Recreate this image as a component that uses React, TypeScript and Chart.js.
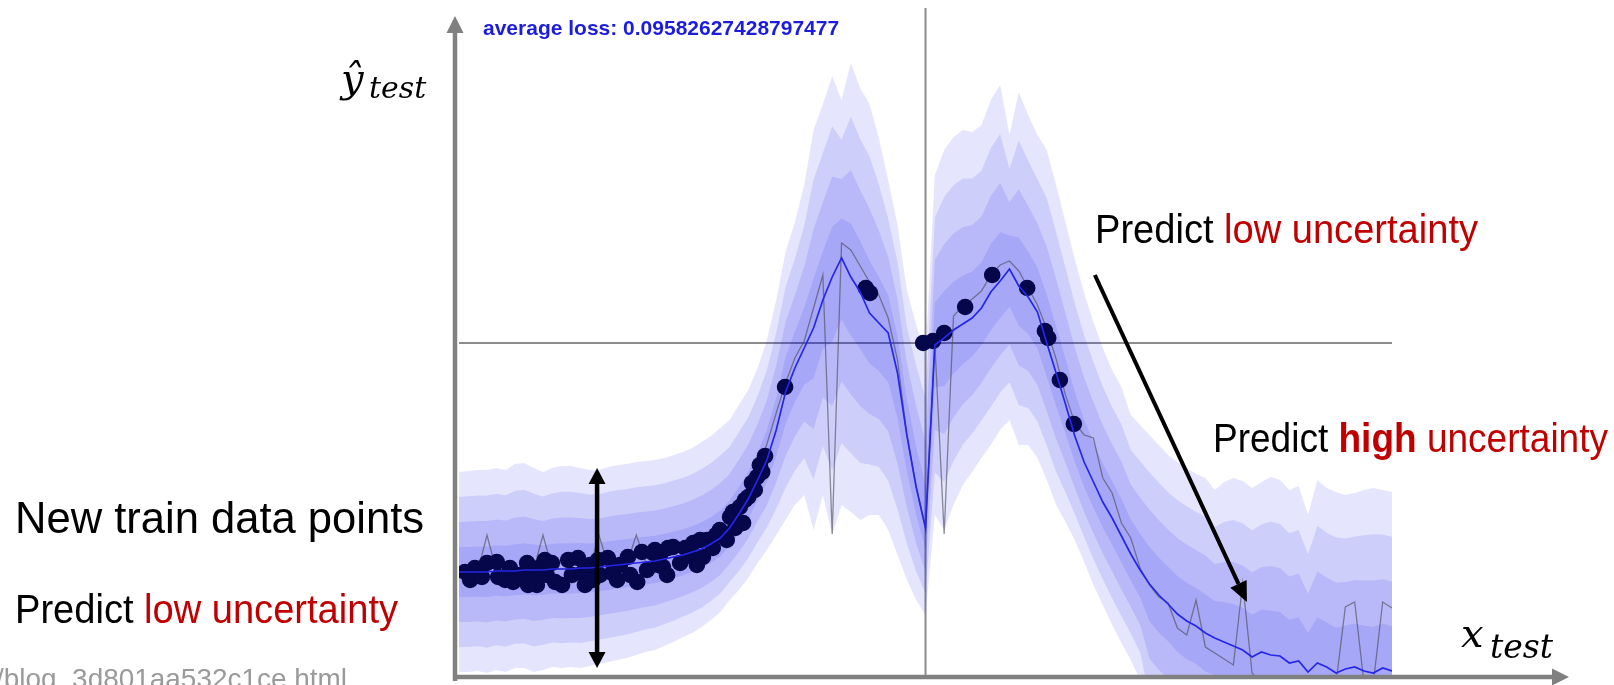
import React, { useEffect, useRef } from "react";
import { Chart, registerables } from "chart.js";

Chart.register(...registerables);

// ---------------- data ----------------
// x sampling grid of the test inputs (domain -1 .. 1)
const xGrid: number[] = Array.from({ length: 101 }, (_, i) => Math.round((-1 + i * 0.02) * 100) / 100);

// predictive mean (blue line)
const meanPrediction = [
  -2.29, -2.29, -2.29, -2.29, -2.28, -2.28, -2.28, -2.27, -2.27, -2.27,
  -2.26, -2.26, -2.26, -2.25, -2.25, -2.24, -2.23, -2.22, -2.21, -2.2,
  -2.19, -2.18, -2.16, -2.14, -2.12, -2.09, -2.06, -2.01, -1.95, -1.85,
  -1.71, -1.56, -1.37, -1.17, -0.87, -0.49, -0.25, -0.05, 0.15, 0.43,
  0.66, 0.85, 0.66, 0.51, 0.3, 0.2, 0.1, -0.3, -0.92, -1.44,
  -1.85, -0.02, 0.05, 0.13, 0.19, 0.25, 0.35, 0.51, 0.62, 0.74,
  0.57, 0.46, 0.31, 0.0, -0.3, -0.61, -0.93, -1.19, -1.39, -1.59,
  -1.75, -1.93, -2.11, -2.27, -2.41, -2.52, -2.61, -2.71, -2.78, -2.83,
  -2.9, -2.95, -2.99, -3.03, -3.07, -3.14, -3.09, -3.12, -3.13, -3.2,
  -3.18, -3.29, -3.2, -3.24, -3.3, -3.26, -3.24, -3.28, -3.3, -3.25,
  -3.28,
];

// one sampled network output (thin grey line)
const sampledPrediction = [
  -2.29, -2.29, -2.29, -1.92, -2.28, -2.28, -2.28, -2.27, -2.27, -1.92,
  -2.26, -2.26, -2.26, -2.25, -2.25, -1.92, -2.23, -2.22, -2.21, -1.92,
  -2.19, -2.18, -2.16, -2.14, -2.12, -2.09, -2.06, -2.01, -1.94, -1.83,
  -1.68, -1.5, -1.3, -1.01, -0.7, -0.4, -0.15, 0.02, 0.35, 0.68,
  -1.91, 1.0, 0.93, 0.77, 0.61, 0.48, 0.25, -0.17, -0.92, -1.44,
  -1.85, 0.0, -1.91, 0.27, 0.37, 0.44, 0.52, 0.68, 0.78, 0.82,
  0.72, 0.55, 0.38, 0.14, -0.16, -0.52, -0.8, -0.92, -0.95, -1.35,
  -1.5, -1.8, -1.95, -2.25, -2.42, -2.54, -2.6, -2.85, -2.92, -2.57,
  -3.04, -3.1, -3.16, -3.22, -2.4, -3.3, -3.4, -3.4, -3.4, -3.4,
  -3.4, -3.4, -3.4, -3.4, -3.4, -2.64, -2.59, -3.4, -3.4, -2.59,
  -2.65,
];

// outermost (4 sigma) upper edge of the uncertainty band
const outerUpper = [
  -1.29, -1.28, -1.27, -1.27, -1.25, -1.27, -1.21, -1.2, -1.25, -1.29,
  -1.25, -1.23, -1.23, -1.25, -1.27, -1.27, -1.24, -1.22, -1.21, -1.19,
  -1.18, -1.17, -1.15, -1.12, -1.09, -1.05, -0.99, -0.93, -0.85, -0.77,
  -0.62, -0.47, -0.25, 0.03, 0.43, 0.91, 1.21, 1.58, 2.13, 2.39,
  2.67, 2.43, 2.8, 2.55, 2.39, 2.05, 1.63, 1.18, 0.53, 0.18,
  -0.12, 1.68, 1.93, 2.06, 2.13, 2.11, 2.18, 2.43, 2.58, 2.08,
  2.51, 2.28, 2.08, 1.93, 1.58, 1.21, 0.84, 0.5, 0.21, -0.05,
  -0.27, -0.44, -0.72, -0.82, -0.92, -1.02, -1.12, -1.19, -1.25, -1.31,
  -1.35, -1.47, -1.39, -1.35, -1.38, -1.45, -1.39, -1.34, -1.37, -1.47,
  -1.43, -1.72, -1.37, -1.45, -1.49, -1.52, -1.5, -1.47, -1.45, -1.47,
  -1.49,
];

// outermost (4 sigma) lower edge of the uncertainty band
const outerLower = [
  -3.29, -3.29, -3.28, -3.3, -3.27, -3.29, -3.25, -3.25, -3.29, -3.27,
  -3.24, -3.25, -3.24, -3.25, -3.23, -3.21, -3.19, -3.17, -3.15, -3.12,
  -3.09, -3.07, -3.03, -2.99, -2.94, -2.9, -2.84, -2.77, -2.69, -2.57,
  -2.47, -2.35, -2.2, -2.07, -1.92, -1.77, -1.62, -1.52, -1.87, -1.52,
  -1.92, -1.62, -1.69, -1.77, -1.72, -1.72, -1.87, -2.12, -2.37, -2.57,
  -2.72, -1.72, -1.87, -1.62, -1.42, -1.29, -1.15, -1.02, -0.87, -0.77,
  -1.02, -1.02, -1.15, -1.37, -1.62, -1.79, -1.97, -2.19, -2.42, -2.62,
  -2.82, -3.0, -3.17, -3.37, -3.9, -4.02, -4.1, -4.23, -4.31, -4.35,
  -4.45, -4.43, -4.59, -4.71, -4.76, -4.83, -4.79, -4.9, -4.89, -4.93,
  -4.93, -4.86, -5.03, -5.03, -5.11, -5.0, -4.98, -5.09, -5.15, -5.03,
  -5.07,
];

// training points (black dots)
const trainX = [
  -0.987, -0.976, -0.966, -0.951, -0.94, -0.919, -0.916, -0.901, -0.891, -0.884,
  -0.869, -0.854, -0.852, -0.841, -0.833, -0.826, -0.816, -0.812, -0.801, -0.794,
  -0.779, -0.766, -0.758, -0.745, -0.736, -0.73, -0.719, -0.713, -0.702, -0.698,
  -0.681, -0.672, -0.661, -0.655, -0.638, -0.633, -0.618, -0.608, -0.597, -0.584,
  -0.58, -0.573, -0.569, -0.563, -0.554, -0.552, -0.541, -0.526, -0.515, -0.505,
  -0.498, -0.49, -0.483, -0.477, -0.468, -0.456, -0.449, -0.441, -0.426, -0.419,
  -0.413, -0.408, -0.398, -0.391, -0.387, -0.38, -0.372, -0.366, -0.361, -0.355,
  -0.35, -0.344, -0.301, -0.128, -0.119, -0.005, 0.016, 0.04, 0.085, 0.143,
  0.218, 0.256, 0.263, 0.288, 0.318,
];
const trainY = [
  -2.29, -2.37, -2.25, -2.34, -2.2, -2.19, -2.34, -2.37, -2.25, -2.39,
  -2.32, -2.2, -2.42, -2.29, -2.42, -2.24, -2.17, -2.32, -2.2, -2.39,
  -2.42, -2.17, -2.32, -2.15, -2.3, -2.42, -2.22, -2.37, -2.17, -2.32,
  -2.15, -2.3, -2.37, -2.22, -2.14, -2.32, -2.39, -2.09, -2.27, -2.1,
  -2.07, -2.22, -2.12, -2.24, -2.32, -2.05, -2.04, -2.2, -2.05, -2.13,
  -2.0, -2.22, -1.97, -2.14, -1.97, -2.05, -1.92, -1.87, -1.97, -1.74,
  -1.69, -1.85, -1.64, -1.8, -1.57, -1.54, -1.4, -1.47, -1.34, -1.22,
  -1.29, -1.13, -0.44, 0.55, 0.5, 0.0, 0.02, 0.1, 0.36, 0.68,
  0.55, 0.12, 0.05, -0.37, -0.81,
];

const averageLoss = "0.09582627428797477";
const sigmaLevels = [1, 2, 3, 4];

// ---------------- helpers ----------------
const pts = (ys: number[]) => ys.map((y, i) => ({ x: xGrid[i], y }));
const bandEdge = (outer: number[], k: number) =>
  meanPrediction.map((m, i) => m + (k / 4) * (outer[i] - m));

const SANS = '"Liberation Sans", Arial, sans-serif';
const MATH = '"DejaVu Serif", serif';

type Seg = { text: string; color: string; bold?: boolean };

function drawRich(ctx: CanvasRenderingContext2D, segs: Seg[], x: number, y: number, size: number, maxWidth?: number) {
  const widths = segs.map((s) => {
    ctx.font = `${s.bold ? "bold " : ""}${size}px ${SANS}`;
    return ctx.measureText(s.text).width;
  });
  const total = widths.reduce((a, b) => a + b, 0);
  const sx = maxWidth ? maxWidth / total : 1;
  ctx.save();
  ctx.translate(x, y);
  ctx.scale(sx, 1);
  ctx.textBaseline = "alphabetic";
  let cx = 0;
  segs.forEach((s, i) => {
    ctx.font = `${s.bold ? "bold " : ""}${size}px ${SANS}`;
    ctx.fillStyle = s.color;
    ctx.fillText(s.text, cx, 0);
    cx += widths[i];
  });
  ctx.restore();
}

function arrow(ctx: CanvasRenderingContext2D, x0: number, y0: number, x1: number, y1: number, len: number, half: number, both = false) {
  const ang = Math.atan2(y1 - y0, x1 - x0);
  const cos = Math.cos(ang), sin = Math.sin(ang);
  const sx = both ? x0 + len * cos : x0;
  const sy = both ? y0 + len * sin : y0;
  const ex = x1 - len * cos, ey = y1 - len * sin;
  ctx.beginPath();
  ctx.moveTo(sx, sy);
  ctx.lineTo(ex, ey);
  ctx.stroke();
  const head = (tx: number, ty: number, c: number, s: number) => {
    const bx = tx - len * c, by = ty - len * s;
    ctx.beginPath();
    ctx.moveTo(tx, ty);
    ctx.lineTo(bx - s * half, by + c * half);
    ctx.lineTo(bx + s * half, by - c * half);
    ctx.closePath();
    ctx.fill();
  };
  head(x1, y1, cos, sin);
  if (both) head(x0, y0, -cos, -sin);
}

const decorPlugin = {
  id: "decor",
  beforeDatasetsDraw(chart: any) {
    const { ctx, chartArea, scales } = chart;
    const x0 = scales.x.getPixelForValue(0);
    const y0 = scales.y.getPixelForValue(0);
    ctx.save();
    ctx.strokeStyle = "rgba(120,120,120,0.85)";
    ctx.lineWidth = 2;
    ctx.beginPath();
    ctx.moveTo(x0, 8);
    ctx.lineTo(x0, chartArea.bottom);
    ctx.moveTo(chartArea.left, y0);
    ctx.lineTo(chartArea.right, y0);
    ctx.stroke();
    ctx.restore();
  },
  afterDraw(chart: any) {
    const { ctx, scales } = chart;
    const sx = (v: number) => scales.x.getPixelForValue(v);
    const sy = (v: number) => scales.y.getPixelForValue(v);
    ctx.save();
    // axes with arrow heads
    ctx.strokeStyle = "#808080";
    ctx.fillStyle = "#808080";
    ctx.lineWidth = 4.5;
    ctx.lineCap = "butt";
    arrow(ctx, 455, 681, 455, 16, 17, 8.5);
    arrow(ctx, 453, 677, 1569, 677, 17, 8.5);

    // black annotation arrows
    ctx.strokeStyle = "#000";
    ctx.fillStyle = "#000";
    ctx.lineWidth = 4.5;
    arrow(ctx, sx(-0.704), sy(-1.25), sx(-0.704), sy(-3.25), 16, 8.5, true);
    ctx.lineWidth = 4;
    arrow(ctx, sx(0.363), sy(0.68), sx(0.689), sy(-2.59), 20, 9);

    // header text
    ctx.font = `bold 21px ${SANS}`;
    ctx.fillStyle = "#1c1ce0";
    ctx.textBaseline = "alphabetic";
    ctx.fillText(`average loss: ${averageLoss}`, 483, 35, 361);

    // axis labels
    ctx.fillStyle = "#000";
    ctx.font = `italic 40px ${MATH}`;
    ctx.fillText("ŷ", 341, 92);
    ctx.font = `italic 30px ${MATH}`;
    ctx.fillText("test", 369, 98, 58);
    ctx.font = `italic 40px ${MATH}`;
    ctx.fillText("x", 1461, 647);
    ctx.font = `italic 33px ${MATH}`;
    ctx.fillText("test", 1490, 658, 64);

    // annotations
    const red = "#c00000";
    drawRich(ctx, [{ text: "New train data points", color: "#000" }], 15, 533, 45, 409);
    drawRich(ctx, [{ text: "Predict ", color: "#000" }, { text: "low uncertainty", color: red }], 15, 623, 40, 383);
    drawRich(ctx, [{ text: "Predict ", color: "#000" }, { text: "low uncertainty", color: red }], 1095, 243, 40, 383);
    drawRich(
      ctx,
      [
        { text: "Predict ", color: "#000" },
        { text: "high", color: red, bold: true },
        { text: " uncertainty", color: red },
      ],
      1213,
      452,
      40,
      395
    );

    // source url (cut by the frame)
    ctx.font = `28px ${SANS}`;
    ctx.fillStyle = "#9a9a9a";
    ctx.fillText("/blog_3d801aa532c1ce.html", -4, 688, 351);
    ctx.restore();
  },
};

export default function App() {
  const ref = useRef<HTMLCanvasElement | null>(null);

  useEffect(() => {
    document.body.style.margin = "0";
    const canvas = ref.current;
    if (!canvas) return;

    const bandColor = "rgba(0,0,240,0.1)";
    const bandSets: any[] = [];
    sigmaLevels.forEach((k) => {
      bandSets.push({
        label: `+${k}σ`,
        data: pts(bandEdge(outerUpper, k)),
        borderWidth: 0,
        pointRadius: 0,
        fill: "+1",
        backgroundColor: bandColor,
        tension: 0,
      });
      bandSets.push({
        label: `-${k}σ`,
        data: pts(bandEdge(outerLower, k)),
        borderWidth: 0,
        pointRadius: 0,
        fill: false,
        tension: 0,
      });
    });

    const chart = new Chart(canvas, {
      type: "line",
      data: {
        datasets: [
          {
            label: "mean",
            data: pts(meanPrediction),
            borderColor: "#2626e8",
            borderWidth: 1.7,
            pointRadius: 0,
            fill: false,
            tension: 0,
          },
          {
            label: "train",
            data: trainX.map((x, i) => ({ x, y: trainY[i] })),
            showLine: false,
            pointRadius: 8.3,
            pointBackgroundColor: "#06064a",
            pointBorderWidth: 0,
            borderColor: "#06064a",
          },
          {
            label: "sample",
            data: pts(sampledPrediction),
            borderColor: "rgba(70,70,80,0.6)",
            borderWidth: 1.3,
            pointRadius: 0,
            fill: false,
            tension: 0,
          },
          ...bandSets,
        ],
      },
      options: {
        animation: false,
        responsive: false,
        events: [],
        layout: { padding: { left: 459, right: 222, top: 11, bottom: 10 } },
        plugins: {
          legend: { display: false },
          tooltip: { enabled: false },
          title: { display: false },
        },
        scales: {
          x: { type: "linear", min: -1, max: 1, display: false },
          y: { type: "linear", min: -3.32, max: 3.32, display: false },
        },
      },
      plugins: [decorPlugin],
    } as any);

    return () => chart.destroy();
  }, []);

  return (
    <div style={{ width: 1614, height: 685, position: "relative", background: "#fff" }}>
      <canvas ref={ref} width={1614} height={685} style={{ display: "block" }} />
    </div>
  );
}
